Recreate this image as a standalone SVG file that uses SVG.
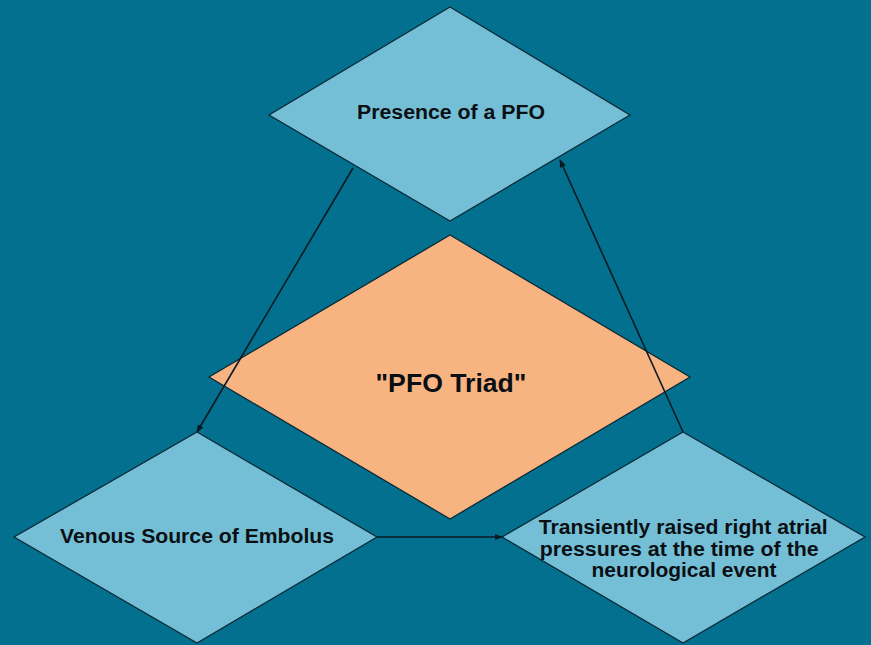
<svg xmlns="http://www.w3.org/2000/svg" width="871" height="645" viewBox="0 0 871 645">
<style>
.bg{fill:#04708f}
.node{fill:#74bfd5;stroke:#0b2a36;stroke-width:1.3}
.center{fill:#f7b380;stroke:#0b2a36;stroke-width:1.3}
.t{font-family:"Liberation Sans",Arial,sans-serif;font-weight:bold;fill:#0a0f14;text-anchor:middle}
.conn{stroke:#0a1a22;stroke-width:1.6;fill:none;marker-end:url(#ah)}
</style>
<defs>
<marker id="ah" viewBox="0 0 10 10" refX="9" refY="5" markerWidth="8" markerHeight="8" orient="auto" markerUnits="userSpaceOnUse">
<path d="M0,1 L10,5 L0,9 z" fill="#0a1a22"/>
</marker>
</defs>
<rect class="bg" x="0" y="0" width="871" height="645"/>
<g id="center-node">
<polygon class="center" points="450,235 690,377 450,519 209,377"/>
<text class="t" x="451" y="392" font-size="25" textLength="151" lengthAdjust="spacingAndGlyphs">"PFO Triad"</text>
</g>
<g id="top-node">
<polygon class="node" points="450,7 630,115 450,221 269,115"/>
<text class="t" x="451" y="119" font-size="20" textLength="188" lengthAdjust="spacingAndGlyphs">Presence of a PFO</text>
</g>
<g id="left-node">
<polygon class="node" points="197,432 377,537 197,643 14,537"/>
<text class="t" x="197" y="543" font-size="20" textLength="274" lengthAdjust="spacingAndGlyphs">Venous Source of Embolus</text>
</g>
<g id="right-node">
<polygon class="node" points="683,432 865,537 683,643 502,537"/>
<text class="t" font-size="20">
<tspan x="686" y="534" textLength="289" lengthAdjust="spacingAndGlyphs">Transiently raised right atrial</tspan>
<tspan x="682" y="556" textLength="279" lengthAdjust="spacingAndGlyphs">pressures at the time of the</tspan>
<tspan x="684" y="577" textLength="185" lengthAdjust="spacingAndGlyphs">neurological event</tspan>
</text>
</g>
<g id="connectors">
<line class="conn" x1="353" y1="168" x2="197" y2="432"/>
<line class="conn" x1="377" y1="537" x2="502" y2="537"/>
<line class="conn" x1="683" y1="432" x2="560" y2="160"/>
</g>
</svg>
